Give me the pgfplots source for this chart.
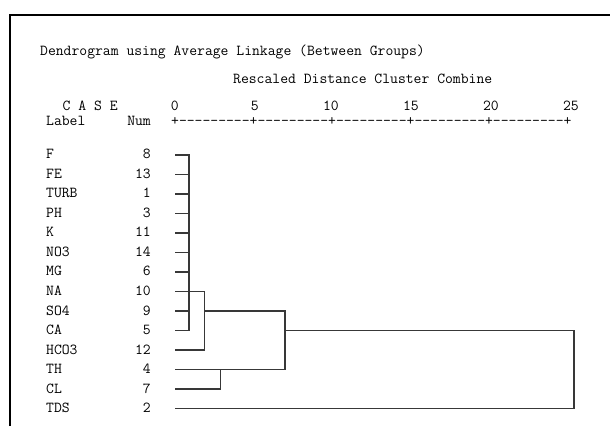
\documentclass[border=0pt]{standalone}
\usepackage{fontspec}
\usepackage{pgfplots}
\pgfplotsset{compat=1.18}
\newcommand{\mono}{\ttfamily\fontsize{15.24}{18}\selectfont}
\definecolor{treeline}{HTML}{383838}
\begin{document}
\begin{tikzpicture}[x=1pt,y=1pt]
\path[use as bounding box] (0,0) rectangle (610,426);
% frame
\draw[black,line width=2.6pt] (10,0) -- (10,411) -- (612,411);
% header text (y = 426 - pixel row of baseline)
\tikzset{txt/.style={inner sep=0pt,font=\mono,text=black}}
\node[txt,anchor=base west] at (40,370) {Dendrogram using Average Linkage (Between Groups)};
\node[txt,anchor=base west] at (233,342) {Rescaled Distance Cluster Combine};
\node[txt,anchor=base west] at (62.5,315) {C A S E};
\node[txt,anchor=base east] at (179,315) {0};
\node[txt,anchor=base east] at (259,315) {5};
\node[txt,anchor=base east] at (339,315) {10};
\node[txt,anchor=base east] at (419,315) {15};
\node[txt,anchor=base east] at (499,315) {20};
\node[txt,anchor=base east] at (579,315) {25};
\node[txt,anchor=base west] at (46,300) {Label};
\node[txt,anchor=base east] at (151,300) {Num};
\node[txt,anchor=base west] at (171,300) {+---------+---------+---------+---------+---------+};
% case labels and numbers (row k centre at pixel 155+19.5(k-1))
\foreach \lab/\num [count=\k from 0] in {F/8,FE/13,TURB/1,PH/3,K/11,NO3/14,MG/6,NA/10,SO4/9,CA/5,HCO3/12,TH/4,CL/7,TDS/2}{
  \pgfmathsetmacro{\yy}{426-(155+19.5*\k)-4}
  \node[txt,anchor=base west] at (46,\yy) {\lab};
  \node[txt,anchor=base east] at (151,\yy) {\num};
}
\begin{axis}[
  scale only axis,
  width=398pt, height=253.5pt,
  at={(176pt,17.5pt)}, anchor=south west,
  xmin=0, xmax=25, ymin=1, ymax=14,
  axis lines=none, clip=false,
  tree/.style={treeline,line width=1.15pt,mark=none,line cap=rect,solid},
]
% leaves joining the first cluster at 0.82
\addplot[tree] coordinates {(0,14) (0.82,14)};
\addplot[tree] coordinates {(0,13) (0.82,13)};
\addplot[tree] coordinates {(0,12) (0.82,12)};
\addplot[tree] coordinates {(0,11) (0.82,11)};
\addplot[tree] coordinates {(0,10) (0.82,10)};
\addplot[tree] coordinates {(0,9) (0.82,9)};
\addplot[tree] coordinates {(0,8) (0.82,8)};
\addplot[tree] coordinates {(0,6) (0.82,6)};
\addplot[tree] coordinates {(0,5) (0.82,5)};
\addplot[tree] coordinates {(0.82,14) (0.82,5)};
% NA row carries first cluster to 1.78
\addplot[tree] coordinates {(0,7) (1.78,7)};
% HCO3
\addplot[tree] coordinates {(0,4) (1.78,4)};
\addplot[tree] coordinates {(1.78,7) (1.78,4)};
\addplot[tree] coordinates {(1.78,6) (6.85,6)};
% TH and CL
\addplot[tree] coordinates {(0,3) (6.85,3)};
\addplot[tree] coordinates {(0,2) (2.78,2)};
\addplot[tree] coordinates {(2.78,3) (2.78,2)};
\addplot[tree] coordinates {(6.85,6) (6.85,3)};
\addplot[tree] coordinates {(6.85,5) (25,5)};
% TDS
\addplot[tree] coordinates {(0,1) (25,1)};
\addplot[tree] coordinates {(25,5) (25,1)};
\end{axis}
\end{tikzpicture}
\end{document}
